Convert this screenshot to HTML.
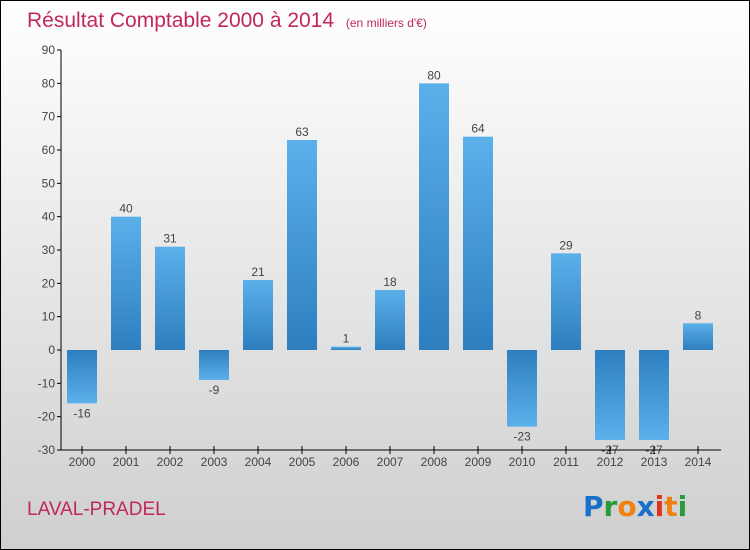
<!DOCTYPE html>
<html><head><meta charset="utf-8"><style>
body{margin:0}
#c{width:748px;height:548px;border:1px solid #000;background:linear-gradient(#ffffff,#cfcfcf);position:relative;font-family:"Liberation Sans",sans-serif}
</style></head><body>
<div id="c">
<svg id="s" width="748" height="548" style="position:absolute;left:0;top:0">
<defs>
<linearGradient id="gp" x1="0" y1="0" x2="0" y2="1"><stop offset="0" stop-color="#5cb0ea"/><stop offset="1" stop-color="#2d7ebf"/></linearGradient>
<linearGradient id="gn" x1="0" y1="0" x2="0" y2="1"><stop offset="0" stop-color="#2d7ebf"/><stop offset="1" stop-color="#5cb0ea"/></linearGradient>
</defs>
<text x="26" y="26" font-size="21" fill="#c0285a">Résultat Comptable 2000 à 2014 <tspan font-size="12" dx="6">(en milliers d'€)</tspan></text>
<text x="26" y="514" font-size="19" fill="#c0285a">LAVAL-PRADEL</text>
<g font-size="28" font-weight="bold" font-family="'DejaVu Sans',sans-serif">
<text x="582" y="515"><tspan fill="#1a6fc8">P</tspan><tspan fill="#2a9a3a">r</tspan><tspan fill="#f08010">o</tspan><tspan fill="#1a6fc8">x</tspan><tspan fill="#e03020">i</tspan><tspan fill="#f08010">t</tspan><tspan fill="#2a9a3a">i</tspan></text></g>
<g id="g"></g>
</svg>
</div>
<script>
const years=["2000","2001","2002","2003","2004","2005","2006","2007","2008","2009","2010","2011","2012","2013","2014"];
const values=[-16,40,31,-9,21,63,1,18,80,64,-23,29,-27,-27,8];
const yTicks=[90,80,70,60,50,40,30,20,10,0,-10,-20,-30];
const NS="http://www.w3.org/2000/svg";
const g=document.getElementById('g');
const y=v=>349-(v)*10/3;
const x=i=>81+i*44;
function el(t,a,p){const e=document.createElementNS(NS,t);for(const k in a)e.setAttribute(k,a[k]);(p||g).appendChild(e);return e;}
values.forEach((v,i)=>{
 const r=el('rect',{x:x(i)-15,y:Math.min(y(v),y(0)),width:30,height:Math.max(1,Math.abs(y(v)-y(0))),fill:v>=0?'url(#gp)':'url(#gn)'});
 
 
 const t=el('text',{x:x(i),y:v>=0?y(v)-4:y(v)+14,'font-size':12,fill:'#444','text-anchor':'middle'});
 t.textContent=v;
 
 
});
const ax=el('line',{x1:60,y1:y(-30),x2:60,y2:y(90),stroke:'#000'});


const bx=el('line',{x1:60,y1:y(-30),x2:720,y2:y(-30),stroke:'#000'});


yTicks.forEach(v=>{
 el('line',{x1:56,x2:60,y1:y(v),y2:y(v),stroke:'#000'});
 const t=el('text',{x:54,y:y(v)+4,'font-size':12,fill:'#444','text-anchor':'end'});
 t.textContent=v;
 
 
});
years.forEach((yr,i)=>{
 el('line',{x1:x(i),x2:x(i),y1:y(-30)-4,y2:y(-30)+4,stroke:'#000'});
 const t=el('text',{x:x(i),y:y(-30)+16,'font-size':12,fill:'#444','text-anchor':'middle'});
 t.textContent=yr;
 
 
});
</script>
</body></html>
